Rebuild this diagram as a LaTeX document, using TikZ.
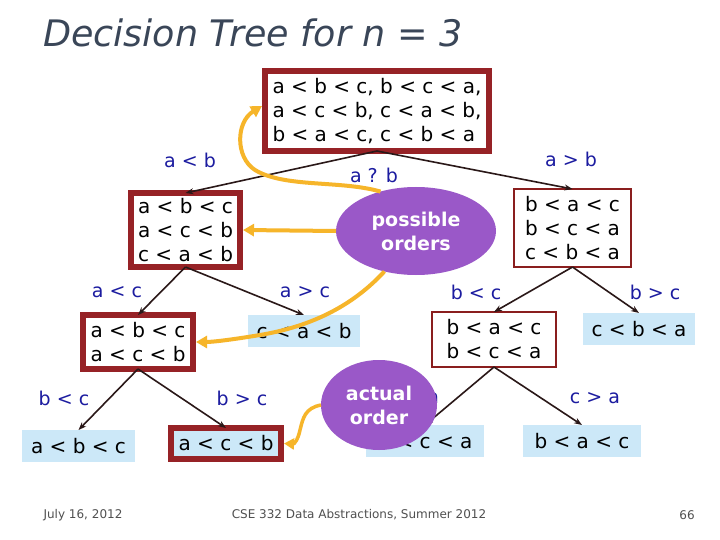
\documentclass[tikz,border=0pt]{standalone}
\usepackage{fontspec}
\setmainfont{DejaVu Sans}
\usetikzlibrary{arrows.meta,shapes.geometric}
\definecolor{boxred}{HTML}{962226}
\definecolor{thinred}{HTML}{8A1E1E}
\definecolor{leafblue}{HTML}{CCE8F8}
\definecolor{lblblue}{HTML}{1C1CA0}
\definecolor{purp}{HTML}{9A58C8}
\definecolor{yel}{HTML}{F6B52A}
\definecolor{titlecol}{HTML}{3A4658}
\definecolor{edgecol}{HTML}{2A1818}
\definecolor{footcol}{HTML}{505050}
\begin{document}
\begin{tikzpicture}[x=1pt,y=-1pt,
 every node/.style={inner sep=0pt,outer sep=0pt},
 body/.style={font=\fontsize{20}{24}\selectfont, align=center},
 thickbox/.style={body, draw=boxred, line width=6pt, fill=white},
 thinbox/.style={body, draw=thinred, line width=2pt, fill=white},
 leaf/.style={body, fill=leafblue},
 lbl/.style={font=\fontsize{19}{22}\selectfont, text=lblblue},
 edge/.style={draw=edgecol, line width=1.6pt, -{Stealth[length=8pt,width=6pt]}},
 hint/.style={draw=yel, line width=4pt, -{Triangle[length=11pt,width=12pt]}},
 thinhint/.style={draw=yel, line width=3.5pt, -{Triangle[length=10pt,width=11pt]}},
 bubble/.style={ellipse, fill=purp, text=white, font=\bfseries\fontsize{19}{24}\selectfont, align=center},
 foot/.style={font=\fontsize{12}{14}\selectfont, text=footcol},
]
\fill[white] (0,0) rectangle (720,540);
\useasboundingbox (0,0) rectangle (720,540);

\node[font=\fontsize{36.5}{42}\selectfont\itshape, text=titlecol, anchor=base west] (title) at (43,47) {Decision Tree for n = 3};

% tree boxes
\node[thickbox, minimum width=224pt, minimum height=80pt, align=left] (root) at (377,111) {a < b < c, b < c < a,\\a < c < b, c < a < b,\\b < a < c, c < b < a};
\node[thickbox, minimum width=109pt, minimum height=74pt] (l1) at (185.5,230) {a < b < c\\a < c < b\\c < a < b};
\node[thinbox, minimum width=117pt, minimum height=78pt] (r1) at (572.5,228) {b < a < c\\b < c < a\\c < b < a};
\node[thickbox, minimum width=110pt, minimum height=54pt] (l2) at (138,342) {a < b < c\\a < c < b};
\node[leaf, minimum width=112pt, minimum height=32pt] (lr) at (304,331) {c < a < b};
\node[thinbox, minimum width=124pt, minimum height=55pt] (r2) at (494,339.5) {b < a < c\\b < c < a};
\node[leaf, minimum width=112pt, minimum height=32pt] (rr) at (639,329) {c < b < a};
\node[leaf, minimum width=113pt, minimum height=32pt] (lll) at (78.5,446) {a < b < c};
\node[thickbox, fill=leafblue, minimum width=110pt, minimum height=31pt] (llr) at (226,443.5) {a < c < b};
\node[leaf, minimum width=118pt, minimum height=32pt] (rrl) at (425,441) {b < c < a};
\node[leaf, minimum width=118pt, minimum height=32pt] (rrr) at (582,441) {b < a < c};

% connectors
\draw[edge] (root.south) -- (l1.north);
\draw[edge] (root.south) -- (r1.north);
\draw[edge] (l1.south) -- (l2.north);
\draw[edge] (l1.south) -- (lr.north);
\draw[edge] (r1.south) -- (r2.north);
\draw[edge] (r1.south) -- (rr.north);
\draw[edge] (l2.south) -- (lll.north);
\draw[edge] (l2.south) -- (llr.north);
\draw[edge] (r2.south) -- (rrl.north);
\draw[edge] (r2.south) -- (rrr.north);

% labels
\node[lbl] (q1) at (190,160) {a < b};
\node[lbl] (q2) at (374,175) {a ? b};
\node[lbl] (q3) at (571,159) {a > b};
\node[lbl] (q4) at (117,292) {a < c};
\node[lbl] (q5) at (305,292) {a > c};
\node[lbl] (q6) at (476,292) {b < c};
\node[lbl] (q7) at (655,292) {b > c};
\node[lbl] (q8) at (64,398) {b < c};
\node[lbl] (q9) at (242,398) {b > c};
\node[lbl] (q10) at (414,398) {c < a};
\node[lbl] (q11) at (595,398) {c > a};

% bubbles
\node[bubble, minimum width=160pt, minimum height=88pt] (poss) at (416,231) {possible\\orders};
\node[bubble, minimum width=116pt, minimum height=90pt] (act) at (379,405) {actual\\order};

% yellow hints
\draw[hint] (poss.west) -- ([xshift=3pt]l1.east);
\draw[hint] (poss.132) .. controls (340,180) and (285,188) .. (255,170) .. controls (235,157) and (236,122) .. ([shift={(-3,-5)}]root.west);
\draw[hint] (poss.232) .. controls (358,300) and (320,325) .. (260,335) .. controls (230,340) and (212,342) .. ([xshift=3pt]l2.east);
\draw[thinhint] (act.west) .. controls (305,408) and (303,418) .. (300,430) .. controls (298,440) and (294,444) .. ([xshift=3pt]llr.east);

% footer
\node[foot] (date) at (83,515) {July 16, 2012};
\node[foot] (course) at (359,515) {CSE 332 Data Abstractions, Summer 2012};
\node[foot] (page) at (687,515) {66};
\end{tikzpicture}
\end{document}
